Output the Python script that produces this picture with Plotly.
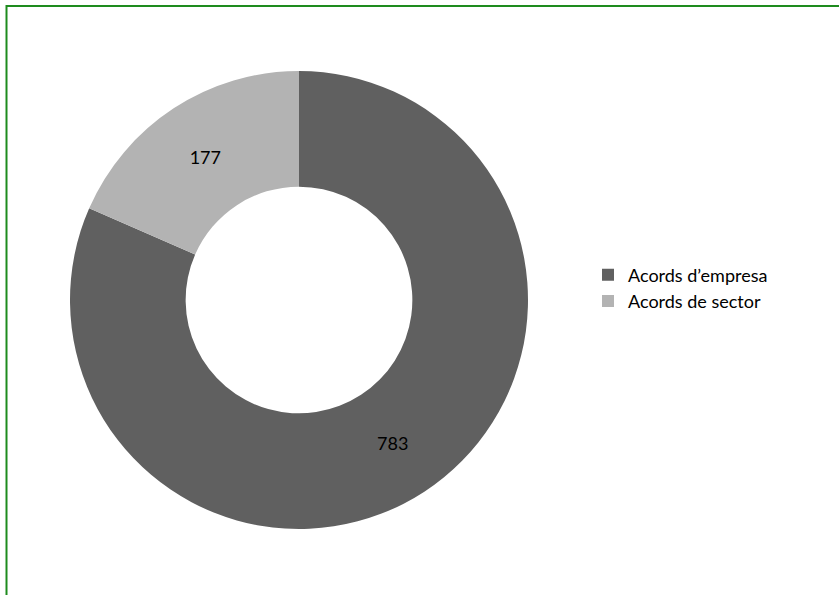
import plotly.graph_objects as go

labels = ["Acords d\u2019empresa", "Acords de sector"]
values = [783, 177]
colors = ["#606060", "#B3B3B3"]

W, H = 839, 595
cx, cy, R = 299, 300, 229
FONT = "Lato, Carlito, Liberation Sans, sans-serif"

fig = go.Figure(go.Pie(
    labels=labels, values=values, sort=False, direction="clockwise", rotation=0,
    hole=0.495, marker=dict(colors=colors, line=dict(width=0)),
    textinfo="value", textposition="inside", insidetextorientation="horizontal",
    textfont=dict(family=FONT, size=18, color="black"),
    domain=dict(x=[(cx - R) / W, (cx + R) / W], y=[(H - cy - R) / H, (H - cy + R) / H]),
    showlegend=True,
))

fig.update_layout(
    width=W, height=H, margin=dict(l=0, r=0, t=0, b=0),
    paper_bgcolor="white", plot_bgcolor="white",
    legend=dict(x=588 / W, y=1 - 288 / H, xanchor="left", yanchor="middle",
                font=dict(family=FONT, size=18, color="black"),
                itemwidth=30, tracegroupgap=2),
    shapes=[
        dict(type="line", xref="paper", yref="paper", x0=6 / W, x1=1.01, y0=1 - 6 / H, y1=1 - 6 / H,
             line=dict(color="#1E8B1E", width=2)),
        dict(type="line", xref="paper", yref="paper", x0=6.5 / W, x1=6.5 / W, y0=-0.01, y1=1 - 5 / H,
             line=dict(color="#1E8B1E", width=2)),
    ],
)

fig.write_html("out.html", config={"displayModeBar": False},
               post_script="document.body.style.margin='0';document.body.style.overflow='hidden';")
